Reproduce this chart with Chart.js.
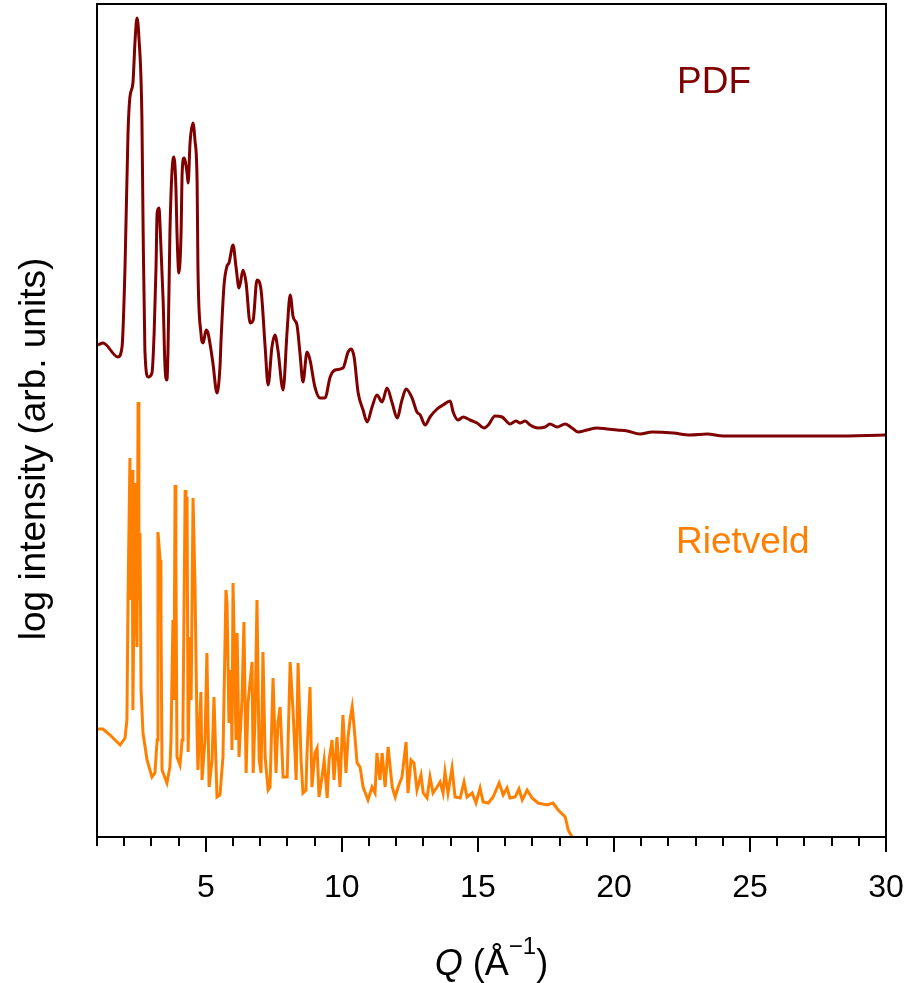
<!DOCTYPE html>
<html>
<head>
<meta charset="utf-8">
<title>PDF vs Rietveld</title>
<script src="https://cdn.jsdelivr.net/npm/chart.js@4.4.1/dist/chart.umd.min.js"></script>
<style>
  html, body { margin: 0; padding: 0; background: #fff; }
  #wrap { width: 908px; height: 983px; }
</style>
</head>
<body>
<div id="wrap"><canvas id="qchart"></canvas></div>
<script>
// PDF fit, Q in 1/Å and log intensity (arb. units, offset for display)
const pdfQ = [1.04, 1.22, 1.77, 1.92, 2.03, 2.14, 2.21, 2.32, 2.40, 2.47, 2.54, 2.65, 2.69, 2.76, 2.88, 3.02, 3.10, 3.17, 3.21, 3.28,
  3.32, 3.43, 3.50, 3.57, 3.61, 3.68, 3.79, 3.83, 3.90, 3.94, 4.01, 4.09, 4.13, 4.20, 4.31, 4.35, 4.42, 4.53, 4.60, 4.68,
  4.71, 4.82, 4.90, 5.01, 5.08, 5.19, 5.26, 5.41, 5.52, 5.56, 5.67, 5.78, 5.85, 6.00, 6.11, 6.22, 6.37, 6.48, 6.63, 6.74,
  6.88, 7.03, 7.18, 7.29, 7.43, 7.54, 7.65, 7.84, 7.99, 8.10, 8.21, 8.35, 8.46, 8.57, 8.72, 8.83, 9.01, 9.20, 9.38, 9.57,
  9.75, 10.04, 10.23, 10.34, 10.45, 10.60, 10.78, 10.93, 11.11, 11.29, 11.48, 11.66, 11.85, 12.03, 12.21, 12.36, 12.58, 12.76, 12.88, 13.06,
  13.24, 13.50, 13.72, 13.98, 14.09, 14.27, 14.46, 14.71, 14.97, 15.23, 15.38, 15.63, 15.89, 16.18, 16.40, 16.55, 16.74, 16.92, 17.21, 17.47,
  17.65, 17.91, 18.21, 18.46, 18.68, 19.01, 19.38, 19.75, 20.12, 20.49, 20.96, 21.40, 22.18, 22.80, 23.43, 24.01, 26.22, 28.06, 29.97];
const pdfI = [492, 494, 480, 490, 570, 704, 740, 754, 797, 819, 800, 720, 620, 487, 460, 464, 504, 570, 624, 629,
  610, 537, 470, 457, 487, 604, 677, 680, 650, 604, 564, 604, 664, 679, 664, 654, 694, 714, 697, 654,
  570, 504, 494, 507, 504, 487, 474, 444, 470, 497, 552, 571, 574, 592, 570, 549, 567, 554, 514, 517,
  557, 547, 490, 452, 490, 502, 487, 447, 507, 542, 520, 512, 484, 455, 485, 477, 450, 439, 439, 460,
  467, 469, 485, 488, 480, 444, 427, 415, 430, 442, 435, 449, 434, 419, 437, 448, 439, 425, 422, 412,
  420, 428, 432, 436, 425, 417, 420, 417, 414, 409, 412, 421, 420, 413, 416, 414, 416, 412, 409, 410,
  413, 410, 413, 409, 405, 407, 409, 408, 407, 406, 403, 405, 404, 402, 403, 401, 401, 401, 402];

// Rietveld fit, same units
const rietQ = [1.00, 1.22, 1.48, 1.85, 2.03, 2.10, 2.14, 2.21, 2.25, 2.29, 2.32, 2.40, 2.43, 2.47, 2.51, 2.54, 2.58, 2.62, 2.69, 2.84,
  3.02, 3.13, 3.21, 3.24, 3.32, 3.35, 3.39, 3.57, 3.68, 3.72, 3.79, 3.83, 3.87, 3.90, 3.94, 4.05, 4.13, 4.16, 4.24, 4.27,
  4.31, 4.35, 4.42, 4.46, 4.53, 4.60, 4.68, 4.71, 4.82, 4.86, 4.97, 5.04, 5.12, 5.23, 5.30, 5.41, 5.52, 5.63, 5.74, 5.78,
  5.85, 5.93, 5.96, 6.00, 6.11, 6.15, 6.22, 6.33, 6.40, 6.48, 6.55, 6.70, 6.74, 6.81, 6.88, 6.96, 7.03, 7.10, 7.18, 7.29,
  7.36, 7.47, 7.58, 7.65, 7.73, 7.84, 7.99, 8.10, 8.21, 8.32, 8.39, 8.50, 8.57, 8.68, 8.72, 8.83, 8.90, 9.01, 9.09, 9.16,
  9.27, 9.35, 9.46, 9.53, 9.64, 9.71, 9.82, 9.93, 10.04, 10.15, 10.23, 10.30, 10.38, 10.45, 10.56, 10.67, 10.78, 10.96, 11.11, 11.22,
  11.29, 11.40, 11.48, 11.59, 11.70, 11.85, 11.96, 12.07, 12.21, 12.36, 12.43, 12.54, 12.65, 12.76, 12.91, 12.99, 13.13, 13.24, 13.35, 13.50,
  13.61, 13.72, 13.79, 13.90, 14.05, 14.16, 14.35, 14.49, 14.60, 14.79, 14.93, 15.08, 15.19, 15.38, 15.56, 15.78, 15.93, 16.07, 16.18, 16.37,
  16.51, 16.63, 16.81, 16.99, 17.21, 17.54, 17.76, 17.95, 18.21, 18.32, 18.46];
const rietI = [108, 108, 102, 92, 99, 117, 237, 379, 237, 367, 127, 354, 237, 190, 435, 237, 304, 147, 104, 77,
  60, 64, 97, 305, 277, 230, 67, 54, 70, 97, 217, 137, 352, 277, 80, 72, 97, 114, 347, 277,
  340, 85, 200, 137, 339, 254, 100, 67, 145, 57, 97, 184, 50, 77, 140, 40, 42, 80, 247, 234,
  114, 167, 87, 254, 97, 204, 80, 137, 215, 64, 134, 175, 64, 120, 237, 77, 64, 185, 80, 47,
  50, 159, 64, 114, 130, 60, 60, 175, 124, 57, 174, 77, 44, 47, 84, 150, 50, 84, 89, 40,
  60, 77, 39, 77, 97, 57, 100, 50, 122, 64, 100, 117, 130, 110, 74, 70, 50, 37, 50, 44,
  84, 57, 84, 50, 90, 50, 40, 50, 60, 95, 44, 77, 74, 47, 62, 44, 39, 60, 44, 50,
  55, 44, 65, 44, 69, 40, 39, 55, 40, 44, 34, 49, 35, 34, 40, 54, 42, 49, 39, 40,
  48, 37, 47, 39, 34, 32, 34, 27, 20, 7, 0];

const qMin = 1;
const qMax = 30;

const FONT = "'Liberation Sans', Arial, sans-serif";
const darkRed = '#800000';
const orange = '#ff8000';

function toPoints(xs, ys) {
  return xs.map((x, i) => ({ x: x, y: ys[i] }));
}

// frame, minor/major ticks, axis titles and curve labels
const decorPlugin = {
  id: 'decor',
  afterDraw(chart) {
    const ctx = chart.ctx;
    const a = chart.chartArea;
    const xs = chart.scales.x;
    ctx.save();
    ctx.strokeStyle = '#000';
    ctx.lineWidth = 2;
    ctx.strokeRect(a.left, a.top, a.right - a.left, a.bottom - a.top);

    // ticks every 1, long ones every 5
    for (let q = qMin; q <= qMax; q++) {
      const px = Math.round(xs.getPixelForValue(q));
      const len = q % 5 === 0 ? 15 : 9;
      ctx.beginPath();
      ctx.moveTo(px, a.bottom);
      ctx.lineTo(px, a.bottom + len);
      ctx.stroke();
    }

    // y title
    ctx.fillStyle = '#000';
    ctx.font = '37px ' + FONT;
    ctx.textAlign = 'center';
    ctx.textBaseline = 'middle';
    ctx.translate(35, 449);
    ctx.rotate(-Math.PI / 2);
    ctx.fillText('log intensity (arb. units)', 0, 0);
    ctx.setTransform(1, 0, 0, 1, 0, 0);

    // x title: Q (Å⁻¹) with italic Q and superscript
    const base = 975;
    const parts = [
      { t: 'Q', f: 'italic 36px ' + FONT, dy: 0 },
      { t: ' (Å', f: '36px ' + FONT, dy: 0 },
      { t: '\u22121', f: '24px ' + FONT, dy: -21 },
      { t: ')', f: '36px ' + FONT, dy: 0 }
    ];
    let total = 0;
    parts.forEach(p => { ctx.font = p.f; p.w = ctx.measureText(p.t).width; total += p.w; });
    let x = (a.left + a.right) / 2 - total / 2;
    ctx.textAlign = 'left';
    ctx.textBaseline = 'alphabetic';
    parts.forEach(p => {
      ctx.font = p.f;
      ctx.fillText(p.t, x, base + p.dy);
      x += p.w;
    });

    // curve labels
    ctx.font = '37px ' + FONT;
    ctx.fillStyle = darkRed;
    ctx.fillText('PDF', 677, 93);
    ctx.fillStyle = orange;
    ctx.fillText('Rietveld', 676, 553);
    ctx.restore();
  }
};

new Chart(document.getElementById('qchart'), {
  type: 'line',
  data: {
    datasets: [
      {
        label: 'PDF',
        data: toPoints(pdfQ, pdfI),
        borderColor: darkRed,
        borderWidth: 3,
        pointRadius: 0,
        cubicInterpolationMode: 'monotone',
        fill: false
      },
      {
        label: 'Rietveld',
        data: toPoints(rietQ, rietI),
        borderColor: orange,
        borderWidth: 3,
        pointRadius: 0,
        tension: 0,
        fill: false
      }
    ]
  },
  options: {
    responsive: true,
    maintainAspectRatio: false,
    animation: false,
    layout: { padding: { top: 4, right: 22, left: 0, bottom: 0 } },
    plugins: {
      legend: { display: false },
      tooltip: { enabled: false }
    },
    scales: {
      x: {
        type: 'linear',
        min: qMin,
        max: qMax,
        grid: { display: false, drawTicks: false },
        border: { display: false },
        ticks: {
          stepSize: 1,
          autoSkip: false,
          maxRotation: 0,
          padding: 32,
          color: '#000',
          font: { family: FONT, size: 32 },
          callback: v => (v % 5 === 0 ? String(v) : '')
        },
        afterFit(scale) {
          scale.height = 146;
          // labels at the ends may overhang, keep the plot width fixed
          scale.paddingLeft = 0;
          scale.paddingRight = 0;
        }
      },
      y: {
        type: 'linear',
        min: 0,
        max: 833,
        grid: { display: false },
        border: { display: false },
        ticks: { display: false },
        afterFit(scale) { scale.width = 97; }
      }
    }
  },
  plugins: [decorPlugin]
});
</script>
</body>
</html>
